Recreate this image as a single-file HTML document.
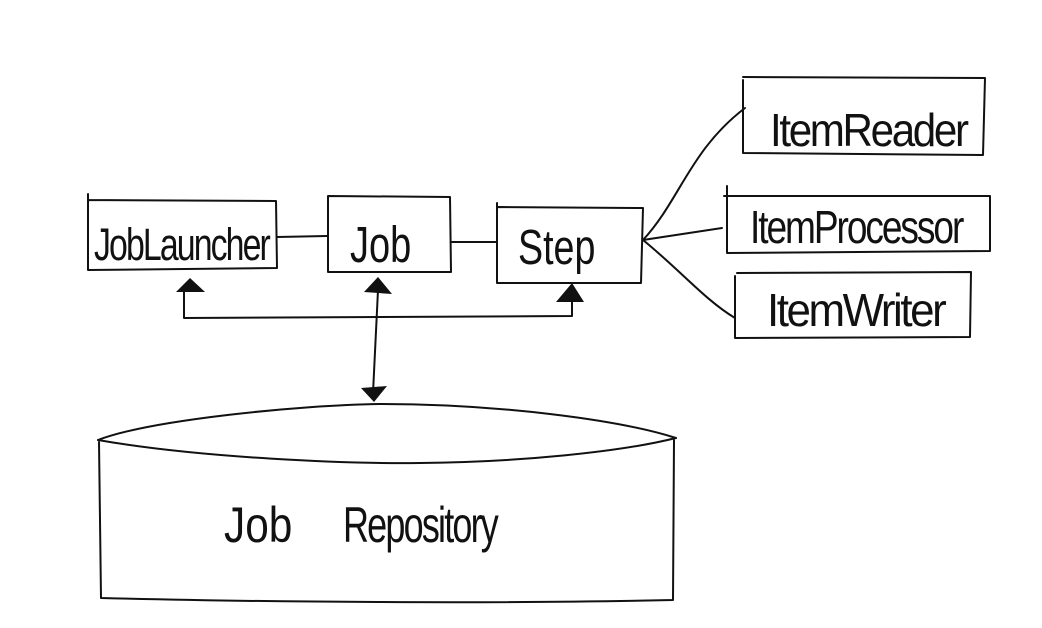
<!DOCTYPE html>
<html><head><meta charset="utf-8"><style>
html,body{margin:0;padding:0;background:#fff;}
svg{display:block;}
text{font-family:"Liberation Sans",sans-serif;fill:#111;font-weight:normal;}
</style></head><body>
<svg width="1042" height="628" viewBox="0 0 1042 628" xmlns="http://www.w3.org/2000/svg">
<g fill="none" stroke="#111" stroke-width="2" stroke-linecap="round" stroke-linejoin="round">
<path d="M88 194 L88 270 L277 268 L276 201 L88 200"/>
<path d="M328 196 L450 197 L451 272 L328 272 Z"/>
<path d="M497 203 L497 283 L641 283 L643 208 L498 207"/>
<path d="M277 237 L327 236"/>
<path d="M451 242 L496 242"/>
<path d="M643 240 C680 200 690 150 745 108"/>
<path d="M643 240 L722 228"/>
<path d="M643 240 C680 270 705 300 735 318"/>
<path d="M743 80 L743 153 L983 155 L985 78 L743 77"/>
<path d="M727 186 L727 253 L990 251 L990 196 L724 196"/>
<path d="M735 276 L735 338 L970 337 L971 272 L737 273"/>
<path d="M184 290 L184 318 L572 316 L572 292"/>
<path d="M378 290 L373 393"/>
<path d="M98 440 C150 420 300 405 380 404 C500 404 620 420 676 438"/>
<path d="M98 440 C200 458 350 464 420 463 C520 462 620 452 676 438"/>
<path d="M99 442 L101 598 C250 602 500 604 673 600 L674 440"/>
</g>
<g fill="#111">
<polygon points="176,292 190,278 205,292"/>
<polygon points="556,302 572,283 584,302"/>
<polygon points="364,292 378,277 392,294"/>
<polygon points="361,388 374,402 387,386"/>
</g>
<g transform="translate(94,260) scale(0.94,1.25)"><text font-size="36" letter-spacing="-2">JobLauncher</text></g>
<g transform="translate(350,262) scale(1.0,1.35)"><text font-size="38">Job</text></g>
<g transform="translate(518,264) scale(0.99,1.3)"><text font-size="38">Step</text></g>
<g transform="translate(770,146) scale(1.17,1.3)"><text font-size="36" letter-spacing="-2">ItemReader</text></g>
<g transform="translate(750,243) scale(1.03,1.3)"><text font-size="36" letter-spacing="-2">ItemProcessor</text></g>
<g transform="translate(767,326) scale(1.22,1.3)"><text font-size="36" letter-spacing="-2">ItemWriter</text></g>
<g transform="translate(224,542) scale(1.06,1.25)"><text font-size="40">Job</text></g>
<g transform="translate(343,542) scale(0.9,1.25)"><text font-size="40" letter-spacing="-2">Repository</text></g>
</svg>
</body></html>
